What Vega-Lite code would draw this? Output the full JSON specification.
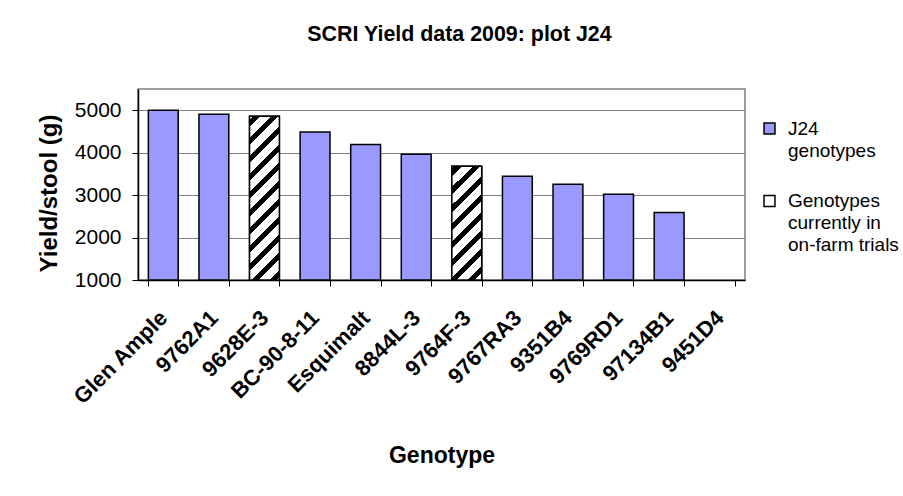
{
  "$schema": "https://vega.github.io/schema/vega-lite/v6.json",
  "autosize": "none",
  "width": 607,
  "height": 191,
  "padding": {"left": 138, "top": 89, "right": 158, "bottom": 216},
  "background": "white",
  "title": {
    "text": "SCRI Yield data 2009: plot J24",
    "font": "Liberation Sans",
    "fontSize": 21.4,
    "fontWeight": "bold",
    "color": "black",
    "anchor": "middle",
    "dx": 18,
    "offset": 44
  },
  "data": {
    "values": [
      {"Genotype": "Glen Ample", "Yield": 5000, "Group": "J24 genotypes"},
      {"Genotype": "9762A1", "Yield": 4905, "Group": "J24 genotypes"},
      {"Genotype": "9628E-3", "Yield": 4860, "Group": "Genotypes currently in on-farm trials"},
      {"Genotype": "BC-90-8-11", "Yield": 4485, "Group": "J24 genotypes"},
      {"Genotype": "Esquimalt", "Yield": 4195, "Group": "J24 genotypes"},
      {"Genotype": "8844L-3", "Yield": 3960, "Group": "J24 genotypes"},
      {"Genotype": "9764F-3", "Yield": 3680, "Group": "Genotypes currently in on-farm trials"},
      {"Genotype": "9767RA3", "Yield": 3446, "Group": "J24 genotypes"},
      {"Genotype": "9351B4", "Yield": 3256, "Group": "J24 genotypes"},
      {"Genotype": "9769RD1", "Yield": 3020, "Group": "J24 genotypes"},
      {"Genotype": "97134B1", "Yield": 2593, "Group": "J24 genotypes"},
      {"Genotype": "9451D4", "Yield": null, "Group": "J24 genotypes"}
    ]
  },
  "encoding": {
    "x": {
      "field": "Genotype",
      "type": "nominal",
      "sort": null,
      "scale": {
        "domain": ["Glen Ample", "9762A1", "9628E-3", "BC-90-8-11", "Esquimalt", "8844L-3", "9764F-3", "9767RA3", "9351B4", "9769RD1", "97134B1", "9451D4"],
        "paddingInner": 0.41,
        "paddingOuter": 0.205
      },
      "axis": {
        "title": "Genotype",
        "titleFont": "Liberation Sans",
        "titleFontSize": 23,
        "titleFontWeight": "bold",
        "titleColor": "black",
        "titleY": 175,
        "titleBaseline": "middle",
        "labelAngle": -45,
        "labelAlign": "right",
        "labelBaseline": "middle",
        "labelFont": "Liberation Sans",
        "labelFontSize": 22,
        "labelFontWeight": "bold",
        "labelColor": "black",
        "labelPadding": 28,
        "labelLimit": 300,
        "tickBand": "extent",
        "tickSize": 6,
        "tickColor": "black",
        "domainColor": "black",
        "domainWidth": 1.5,
        "grid": false
      }
    },
    "y": {
      "field": "Yield",
      "type": "quantitative",
      "scale": {"domain": [1000, 5500], "zero": false, "nice": false},
      "axis": {
        "title": "Yield/stool (g)",
        "titleFont": "Liberation Sans",
        "titleFontSize": 24,
        "titleFontWeight": "bold",
        "titleColor": "black",
        "titleX": -89,
        "titleY": 104,
        "titleAlign": "center",
        "titleBaseline": "middle",
        "values": [1000, 2000, 3000, 4000, 5000],
        "format": "d",
        "labelFont": "Liberation Sans",
        "labelFontSize": 21,
        "labelColor": "black",
        "labelPadding": 11,
        "tickSize": 6,
        "tickColor": "black",
        "domainColor": "black",
        "domainWidth": 1.5,
        "grid": true,
        "gridColor": "#808080",
        "gridWidth": 1
      }
    },
    "y2": {"datum": 1000}
  },
  "layer": [
    {
      "mark": {"type": "bar", "stroke": "black", "strokeWidth": 1.5},
      "encoding": {
        "fill": {
          "field": "Group",
          "type": "nominal",
          "scale": {
            "domain": ["J24 genotypes", "Genotypes currently in on-farm trials"],
            "range": ["#9999FF", "#FFFFFF"]
          },
          "legend": {
            "title": null,
            "orient": "none",
            "legendX": 622,
            "legendY": 30,
            "symbolType": "square",
            "symbolSize": 120,
            "symbolStrokeColor": "black",
            "symbolStrokeWidth": 1.5,
            "symbolOpacity": 1,
            "labelFont": "Liberation Sans",
            "labelFontSize": 19,
            "labelColor": "black",
            "labelBaseline": "middle",
            "labelOffset": 9,
            "labelLimit": 300,
            "rowPadding": 30.5,
            "labelExpr": "datum.label == 'J24 genotypes' ? ['J24', 'genotypes'] : ['Genotypes', 'currently in', 'on-farm trials']"
          }
        }
      }
    },
    {
      "transform": [{"filter": "datum.Genotype == '9628E-3'"}],
      "mark": {
        "type": "bar",
        "stroke": "black",
        "strokeWidth": 1.5,
        "fill": {
          "gradient": "linear",
          "x1": 0, "y1": 0, "x2": 0.2081, "y2": 1.1441,
          "stops": [
            {"offset": 0, "color": "white"},
            {"offset": 0.020, "color": "white"}, {"offset": 0.020, "color": "black"}, {"offset": 0.057, "color": "black"}, {"offset": 0.057, "color": "white"},
            {"offset": 0.113, "color": "white"}, {"offset": 0.113, "color": "black"}, {"offset": 0.150, "color": "black"}, {"offset": 0.150, "color": "white"},
            {"offset": 0.206, "color": "white"}, {"offset": 0.206, "color": "black"}, {"offset": 0.243, "color": "black"}, {"offset": 0.243, "color": "white"},
            {"offset": 0.299, "color": "white"}, {"offset": 0.299, "color": "black"}, {"offset": 0.336, "color": "black"}, {"offset": 0.336, "color": "white"},
            {"offset": 0.392, "color": "white"}, {"offset": 0.392, "color": "black"}, {"offset": 0.429, "color": "black"}, {"offset": 0.429, "color": "white"},
            {"offset": 0.485, "color": "white"}, {"offset": 0.485, "color": "black"}, {"offset": 0.522, "color": "black"}, {"offset": 0.522, "color": "white"},
            {"offset": 0.578, "color": "white"}, {"offset": 0.578, "color": "black"}, {"offset": 0.615, "color": "black"}, {"offset": 0.615, "color": "white"},
            {"offset": 0.671, "color": "white"}, {"offset": 0.671, "color": "black"}, {"offset": 0.708, "color": "black"}, {"offset": 0.708, "color": "white"},
            {"offset": 0.764, "color": "white"}, {"offset": 0.764, "color": "black"}, {"offset": 0.801, "color": "black"}, {"offset": 0.801, "color": "white"},
            {"offset": 0.857, "color": "white"}, {"offset": 0.857, "color": "black"}, {"offset": 0.894, "color": "black"}, {"offset": 0.894, "color": "white"},
            {"offset": 0.950, "color": "white"}, {"offset": 0.950, "color": "black"}, {"offset": 0.987, "color": "black"}, {"offset": 0.987, "color": "white"},
            {"offset": 1, "color": "white"}
          ]
        }
      }
    },
    {
      "transform": [{"filter": "datum.Genotype == '9764F-3'"}],
      "mark": {
        "type": "bar",
        "stroke": "black",
        "strokeWidth": 1.5,
        "fill": {
          "gradient": "linear",
          "x1": 0, "y1": 0, "x2": 0.3095, "y2": 1.181,
          "stops": [
            {"offset": 0, "color": "white"},
            {"offset": 0.020, "color": "white"}, {"offset": 0.020, "color": "black"}, {"offset": 0.070, "color": "black"}, {"offset": 0.070, "color": "white"},
            {"offset": 0.1454, "color": "white"}, {"offset": 0.1454, "color": "black"}, {"offset": 0.1954, "color": "black"}, {"offset": 0.1954, "color": "white"},
            {"offset": 0.2708, "color": "white"}, {"offset": 0.2708, "color": "black"}, {"offset": 0.3208, "color": "black"}, {"offset": 0.3208, "color": "white"},
            {"offset": 0.3962, "color": "white"}, {"offset": 0.3962, "color": "black"}, {"offset": 0.4462, "color": "black"}, {"offset": 0.4462, "color": "white"},
            {"offset": 0.5216, "color": "white"}, {"offset": 0.5216, "color": "black"}, {"offset": 0.5716, "color": "black"}, {"offset": 0.5716, "color": "white"},
            {"offset": 0.647, "color": "white"}, {"offset": 0.647, "color": "black"}, {"offset": 0.697, "color": "black"}, {"offset": 0.697, "color": "white"},
            {"offset": 0.7724, "color": "white"}, {"offset": 0.7724, "color": "black"}, {"offset": 0.8224, "color": "black"}, {"offset": 0.8224, "color": "white"},
            {"offset": 0.8978, "color": "white"}, {"offset": 0.8978, "color": "black"}, {"offset": 0.9478, "color": "black"}, {"offset": 0.9478, "color": "white"},
            {"offset": 1, "color": "white"}
          ]
        }
      }
    }
  ],
  "config": {
    "view": {"stroke": "#808080", "strokeWidth": 1.5},
    "style": {"guide-label": {"lineHeight": 22}}
  }
}
